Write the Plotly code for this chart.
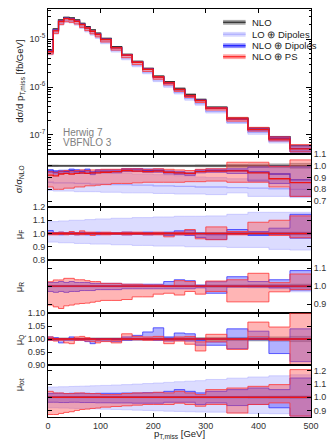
import plotly.graph_objects as go
from plotly.subplots import make_subplots

# bin edges of the p_T,miss histogram [GeV]
edges = [0, 10, 20, 30, 40, 50, 60, 70, 80, 90, 100, 120, 140, 160, 180, 200,
         220, 240, 260, 280, 300, 340, 380, 420, 460, 500]

# NLO cross section per bin [fb/GeV]
nlo_xs = [5.9e-6, 1.62e-5, 2.49e-5, 2.83e-5, 2.74e-5, 2.49e-5, 2.12e-5, 1.80e-5, 1.54e-5, 1.32e-5,
          1.03e-5, 6.9e-6, 4.8e-6, 3.43e-6, 2.45e-6, 1.69e-6, 1.29e-6, 9.4e-7, 7.0e-7, 5.5e-7,
          3.8e-7, 2.26e-7, 1.4e-7, 9.2e-8, 6.0e-8]

# ratio to NLO (sigma / sigma_NLO)
sig_lo_c = [0.860, 0.855, 0.855, 0.855, 0.855, 0.850, 0.850, 0.850, 0.845, 0.845, 0.845, 0.840, 0.840,
            0.835, 0.835, 0.830, 0.830, 0.825, 0.825, 0.820, 0.820, 0.815, 0.810, 0.805, 0.800]
sig_lo_lo = [0.790, 0.785, 0.785, 0.785, 0.785, 0.780, 0.780, 0.780, 0.780, 0.780, 0.775, 0.775, 0.770,
             0.770, 0.770, 0.765, 0.765, 0.760, 0.760, 0.760, 0.755, 0.770, 0.740, 0.740, 0.730]
sig_lo_hi = [0.965, 0.960, 0.960, 0.960, 0.960, 0.955, 0.955, 0.950, 0.950, 0.950, 0.945, 0.940, 0.935,
             0.930, 0.930, 0.925, 0.920, 0.915, 0.910, 0.905, 0.900, 0.890, 0.885, 0.880, 0.870]
sig_dip_c = [0.955, 0.945, 0.950, 0.950, 0.960, 0.955, 0.950, 0.960, 0.940, 0.955, 0.955, 0.955, 0.965,
             0.965, 0.960, 0.960, 0.945, 0.940, 0.933, 0.955, 0.960, 0.960, 0.947, 0.930, 0.880]
sig_dip_lo = [0.940, 0.930, 0.935, 0.935, 0.945, 0.940, 0.935, 0.945, 0.925, 0.940, 0.940, 0.940, 0.950,
              0.950, 0.945, 0.945, 0.930, 0.925, 0.918, 0.940, 0.945, 0.935, 0.870, 0.850, 0.740]
sig_dip_hi = [0.967, 0.957, 0.962, 0.962, 0.972, 0.967, 0.962, 0.972, 0.952, 0.967, 0.967, 0.967, 0.977,
              0.977, 0.972, 0.972, 0.957, 0.952, 0.945, 0.967, 0.972, 0.975, 0.990, 0.995, 0.990]
sig_ps_c = [0.920, 0.915, 0.930, 0.935, 0.930, 0.935, 0.940, 0.935, 0.940, 0.940, 0.945, 0.950, 0.960,
            0.955, 0.950, 0.955, 0.945, 0.940, 0.935, 0.950, 0.955, 0.956, 0.939, 0.890, 0.857]
sig_ps_lo = [0.820, 0.800, 0.800, 0.810, 0.810, 0.820, 0.820, 0.830, 0.830, 0.835, 0.840, 0.850, 0.850,
             0.855, 0.860, 0.860, 0.860, 0.860, 0.865, 0.865, 0.870, 0.860, 0.860, 0.820, 0.740]
sig_ps_hi = [0.950, 0.945, 0.955, 0.960, 0.955, 0.960, 0.965, 0.960, 0.965, 0.965, 0.970, 0.970, 0.975,
             0.975, 0.970, 0.975, 0.970, 0.965, 0.960, 0.970, 0.975, 1.030, 1.030, 0.995, 1.050]
sig_nlo_err = [0.006, 0.006, 0.005, 0.005, 0.005, 0.005, 0.005, 0.005, 0.005, 0.005, 0.005, 0.005, 0.006,
               0.006, 0.006, 0.006, 0.007, 0.007, 0.007, 0.008, 0.008, 0.012, 0.014, 0.016, 0.020]

# factorisation scale variation
muf_lo_lo = [0.935, 0.935, 0.930, 0.930, 0.930, 0.925, 0.925, 0.925, 0.920, 0.920, 0.920, 0.915, 0.915,
             0.910, 0.910, 0.905, 0.905, 0.905, 0.900, 0.900, 0.900, 0.895, 0.895, 0.880, 0.875]
muf_lo_hi = [1.090, 1.090, 1.095, 1.095, 1.100, 1.100, 1.100, 1.105, 1.105, 1.110, 1.110, 1.115, 1.115,
             1.120, 1.120, 1.125, 1.125, 1.130, 1.130, 1.130, 1.133, 1.145, 1.160, 1.160, 1.160]
muf_dip_lo = [0.995, 0.995, 0.990, 0.995, 0.995, 0.990, 0.995, 0.990, 0.995, 0.990, 0.995, 0.995, 0.990,
              0.995, 0.990, 0.995, 0.985, 0.990, 0.985, 0.970, 0.955, 0.995, 0.985, 0.995, 0.965]
muf_dip_hi = [1.022, 1.005, 1.010, 1.005, 1.010, 1.005, 1.010, 1.005, 1.005, 1.010, 1.005, 1.005, 1.010,
              1.005, 1.010, 1.005, 1.010, 1.020, 1.025, 1.000, 0.990, 1.030, 1.015, 1.040, 1.145]
muf_ps_lo = [0.990, 0.990, 0.995, 0.990, 0.995, 0.990, 0.990, 0.995, 0.985, 0.995, 0.990, 0.995, 0.990,
             0.995, 0.990, 0.990, 0.975, 0.990, 0.990, 0.960, 0.953, 0.990, 1.000, 0.985, 0.968]
muf_ps_hi = [1.005, 1.005, 1.010, 1.005, 1.015, 1.005, 1.020, 1.010, 1.010, 1.005, 1.010, 1.005, 1.010,
             1.010, 1.005, 1.010, 1.005, 1.010, 1.030, 1.000, 1.050, 1.015, 1.085, 1.100, 1.133]

# renormalisation scale variation
mur_lo_lo = [0.997, 0.997, 0.997, 0.997, 0.997, 0.997, 0.997, 0.997, 0.997, 0.997, 0.997, 0.997, 0.997,
             0.997, 0.997, 0.997, 0.996, 0.996, 0.996, 0.996, 0.995, 0.994, 0.990, 0.985, 0.968]
mur_lo_hi = [1.003, 1.003, 1.003, 1.003, 1.003, 1.003, 1.003, 1.003, 1.003, 1.003, 1.003, 1.003, 1.003,
             1.003, 1.003, 1.003, 1.003, 1.003, 1.003, 1.003, 1.004, 1.005, 1.006, 1.008, 1.003]
mur_dip_lo = [0.970, 0.965, 0.970, 0.965, 0.970, 0.970, 0.975, 0.975, 0.975, 0.980, 0.980, 0.980, 0.985,
              0.985, 0.985, 0.985, 0.985, 0.985, 0.985, 0.990, 0.960, 0.995, 0.995, 0.990, 0.978]
mur_dip_hi = [1.020, 1.020, 1.025, 1.020, 1.025, 1.020, 1.020, 1.020, 1.015, 1.015, 1.015, 1.015, 1.010,
              1.010, 1.010, 1.010, 1.025, 1.035, 1.030, 1.005, 1.024, 1.052, 1.025, 1.035, 1.086]
mur_ps_lo = [0.894, 0.884, 0.875, 0.890, 0.894, 0.900, 0.903, 0.905, 0.910, 0.915, 0.920, 0.920, 0.925,
             0.940, 0.940, 0.955, 0.960, 0.950, 0.970, 0.955, 0.970, 0.912, 0.912, 0.968, 0.980]
mur_ps_hi = [1.024, 1.034, 1.034, 1.043, 1.043, 1.035, 1.035, 1.030, 1.025, 1.025, 1.015, 1.015, 1.010,
             1.010, 1.006, 1.006, 1.000, 1.030, 1.025, 1.000, 1.028, 1.035, 1.071, 1.019, 1.067]

# shower scale variation
muq_lo_lo = [0.998, 0.998, 0.998, 0.998, 0.998, 0.998, 0.998, 0.998, 0.998, 0.998, 0.998, 0.998, 0.998,
             0.998, 0.998, 0.998, 0.998, 0.998, 0.998, 0.998, 0.998, 0.998, 0.998, 0.998, 0.998]
muq_lo_hi = [1.002, 1.002, 1.002, 1.002, 1.002, 1.002, 1.002, 1.002, 1.002, 1.002, 1.002, 1.002, 1.002,
             1.002, 1.002, 1.002, 1.002, 1.002, 1.002, 1.002, 1.002, 1.002, 1.002, 1.002, 1.002]
muq_dip_lo = [0.995, 0.995, 0.985, 0.995, 0.995, 0.995, 0.995, 0.990, 0.982, 0.992, 0.992, 0.990, 0.995,
              0.997, 0.997, 0.995, 0.992, 0.995, 0.992, 0.976, 0.976, 0.963, 0.997, 0.944, 0.913]
muq_dip_hi = [1.008, 1.005, 1.001, 1.001, 1.008, 1.001, 1.001, 1.001, 1.001, 1.001, 1.001, 1.000, 1.008,
              1.014, 1.027, 1.043, 1.008, 1.023, 1.020, 0.995, 0.989, 1.039, 1.030, 1.001, 1.039]
muq_ps_lo = [0.995, 0.992, 0.995, 0.985, 0.982, 0.995, 0.995, 0.992, 0.990, 0.985, 0.990, 0.985, 0.997,
             0.997, 0.995, 0.996, 0.982, 0.992, 0.980, 0.954, 0.989, 0.960, 1.008, 0.995, 0.900]
muq_ps_hi = [1.008, 1.001, 1.000, 1.000, 1.000, 1.008, 1.010, 1.005, 0.999, 0.995, 0.999, 0.995, 1.020,
             1.010, 1.008, 1.010, 0.995, 1.008, 1.010, 0.989, 1.018, 1.000, 1.065, 1.046, 1.100]

# total scale variation
mut_lo_lo = [0.920, 0.920, 0.918, 0.918, 0.916, 0.915, 0.914, 0.913, 0.912, 0.911, 0.909, 0.907, 0.905,
             0.902, 0.900, 0.897, 0.894, 0.892, 0.890, 0.888, 0.887, 0.882, 0.877, 0.875, 0.870]
mut_lo_hi = [1.078, 1.078, 1.080, 1.080, 1.082, 1.083, 1.084, 1.085, 1.087, 1.088, 1.090, 1.093, 1.096,
             1.100, 1.104, 1.108, 1.113, 1.118, 1.122, 1.126, 1.135, 1.145, 1.154, 1.163, 1.170]
mut_dip_lo = [0.962, 0.962, 0.960, 0.960, 0.962, 0.962, 0.960, 0.960, 0.960, 0.958, 0.958, 0.957, 0.957,
              0.955, 0.955, 0.955, 0.962, 0.962, 0.962, 0.945, 0.957, 0.937, 0.945, 0.920, 0.857]
mut_dip_hi = [1.028, 1.030, 1.030, 1.028, 1.030, 1.028, 1.030, 1.030, 1.028, 1.030, 1.030, 1.030, 1.032,
              1.032, 1.035, 1.035, 1.045, 1.058, 1.045, 1.033, 1.045, 1.058, 1.070, 1.058, 1.146]
mut_ps_lo = [0.869, 0.869, 0.877, 0.885, 0.890, 0.900, 0.907, 0.910, 0.915, 0.918, 0.925, 0.930, 0.935,
             0.940, 0.945, 0.945, 0.945, 0.955, 0.945, 0.932, 0.945, 0.880, 0.945, 0.957, 0.857]
mut_ps_hi = [1.045, 1.033, 1.033, 1.028, 1.028, 1.033, 1.033, 1.028, 1.028, 1.028, 1.020, 1.020, 1.028,
             1.033, 1.033, 1.038, 1.033, 1.045, 1.033, 1.020, 1.058, 1.070, 1.083, 1.096, 1.210]

nlo_scale_err = [0.004, 0.004, 0.004, 0.004, 0.004, 0.004, 0.004, 0.004, 0.004, 0.004, 0.004, 0.004, 0.004,
                 0.004, 0.004, 0.004, 0.005, 0.005, 0.005, 0.005, 0.006, 0.006, 0.007, 0.008, 0.010]

labels = ["NLO", "LO \u2295 Dipoles", "NLO \u2295 Dipoles", "NLO \u2295 PS"]

# style per series: (fill, band edge, central line)
STY = {
    "nlo": ("rgba(95,95,95,0.45)", "rgba(95,95,95,0.6)", "#2e2e2e"),
    "lo": ("rgba(150,150,255,0.33)", "rgba(160,160,255,0.55)", "#a8a8ff"),
    "dip": ("rgba(70,70,255,0.42)", "#3535ff", "#1a1aee"),
    "ps": ("rgba(255,70,70,0.40)", "#ff3535", "#ee1515"),
}

FONT = "Liberation Sans, Arial, sans-serif"
ones = [1.0] * len(nlo_xs)


def step(v):
    return list(v) + [v[-1]]


fig = make_subplots(rows=6, cols=1, vertical_spacing=0, row_heights=[145, 53, 53, 53, 52, 52])


def add_series(row, lo, c, hi, key):
    fill, edge, line = STY[key]
    fig.add_trace(go.Scatter(x=edges, y=step(lo), mode="lines", hoverinfo="skip", showlegend=False,
                             line=dict(shape="hv", color=edge, width=0.8)), row=row, col=1)
    fig.add_trace(go.Scatter(x=edges, y=step(hi), mode="lines", hoverinfo="skip", showlegend=False,
                             fill="tonexty", fillcolor=fill,
                             line=dict(shape="hv", color=edge, width=0.8)), row=row, col=1)
    fig.add_trace(go.Scatter(x=edges, y=step(c), mode="lines", hoverinfo="skip", showlegend=False,
                             line=dict(shape="hv", color=line, width=1.3)), row=row, col=1)


def scaled(r):
    return [n * x for n, x in zip(nlo_xs, r)]


# main panel
add_series(1, scaled([1 - e for e in sig_nlo_err]), nlo_xs, scaled([1 + e for e in sig_nlo_err]), "nlo")
add_series(1, scaled(sig_lo_lo), scaled(sig_lo_c), scaled(sig_lo_hi), "lo")
add_series(1, scaled(sig_dip_lo), scaled(sig_dip_c), scaled(sig_dip_hi), "dip")
add_series(1, scaled(sig_ps_lo), scaled(sig_ps_c), scaled(sig_ps_hi), "ps")

# sigma / sigma_NLO
add_series(2, [1 - e for e in sig_nlo_err], ones, [1 + e for e in sig_nlo_err], "nlo")
add_series(2, sig_lo_lo, sig_lo_c, sig_lo_hi, "lo")
add_series(2, sig_dip_lo, sig_dip_c, sig_dip_hi, "dip")
add_series(2, sig_ps_lo, sig_ps_c, sig_ps_hi, "ps")

# scale variation panels
scale_panels = [
    (3, muf_lo_lo, muf_lo_hi, muf_dip_lo, muf_dip_hi, muf_ps_lo, muf_ps_hi),
    (4, mur_lo_lo, mur_lo_hi, mur_dip_lo, mur_dip_hi, mur_ps_lo, mur_ps_hi),
    (5, muq_lo_lo, muq_lo_hi, muq_dip_lo, muq_dip_hi, muq_ps_lo, muq_ps_hi),
    (6, mut_lo_lo, mut_lo_hi, mut_dip_lo, mut_dip_hi, mut_ps_lo, mut_ps_hi),
]
for row, llo, lhi, dlo, dhi, plo, phi in scale_panels:
    add_series(row, [1 - e for e in nlo_scale_err], ones, [1 + e for e in nlo_scale_err], "nlo")
    add_series(row, llo, ones, lhi, "lo")
    add_series(row, dlo, ones, dhi, "dip")
    add_series(row, plo, ones, phi, "ps")


# plot area spans 48..311 px horizontally and 9..417 px vertically
def py(px):
    return (417 - px) / 408.0


def pxx(px):
    return (px - 47.7) / 263.3


panel_px = [(9, 154), (154, 207), (207, 260), (260, 313), (313, 365), (365, 417)]

tickfont = dict(family=FONT, size=9, color="#333")
fig.update_xaxes(range=[0, 500], showline=True, linecolor="black", linewidth=1, mirror="ticks",
                 ticks="inside", ticklen=4, tickcolor="black", tickvals=[0, 100, 200, 300, 400, 500],
                 showgrid=False, zeroline=False, showticklabels=False, automargin=False)
fig.update_xaxes(showticklabels=True, tickfont=tickfont, row=6, col=1)
fig.update_yaxes(showline=True, linecolor="black", linewidth=1, mirror="ticks", ticks="inside",
                 ticklen=4, tickcolor="black", showgrid=False, zeroline=False, tickfont=tickfont,
                 automargin=False)
for i, (top, bot) in enumerate(panel_px):
    fig.update_yaxes(domain=[py(bot), py(top)], row=i + 1, col=1)

minor_log = [m * 10.0 ** e for e in (-8, -7, -6, -5) for m in range(2, 10)]
fig.update_yaxes(type="log", range=[-7.396, -4.375], tickvals=[1e-7, 1e-6, 1e-5], ticklen=5,
                 ticktext=["10<sup>-7</sup>", "10<sup>-6</sup>", "10<sup>-5</sup>"],
                 minor=dict(tickvals=minor_log, ticks="inside", ticklen=2.5, tickcolor="black"),
                 row=1, col=1)
fig.update_yaxes(range=[0.65, 1.1], tickvals=[0.7, 0.8, 0.9, 1.0, 1.1], tickformat=".1f", side="right",
                 row=2, col=1)
fig.update_yaxes(range=[0.8, 1.2], tickvals=[0.8, 0.9, 1.0, 1.1, 1.2], tickformat=".1f", side="left",
                 row=3, col=1)
fig.update_yaxes(range=[0.85, 1.145], tickvals=[0.9, 1.0, 1.1], tickformat=".1f", side="right",
                 row=4, col=1)
fig.update_yaxes(range=[0.9, 1.1], tickvals=[0.9, 0.95, 1.0, 1.05, 1.1], tickformat=".2f", side="left",
                 row=5, col=1)
fig.update_yaxes(range=[0.85, 1.245], tickvals=[0.9, 1.0, 1.1, 1.2], tickformat=".1f", side="right",
                 row=6, col=1)

ann = []
ytitles = [("d\u03c3/d p<sub>T,miss</sub> [fb/GeV]", 81.5),
           ("\u03c3/\u03c3<sub>NLO</sub>", 179),
           ("\u03bc<sub>F</sub>", 234),
           ("\u03bc<sub>R</sub>", 287),
           ("\u03bc<sub>Q</sub>", 340),
           ("\u03bc<sub>tot</sub>", 385)]
for txt, ypx in ytitles:
    ann.append(dict(text=txt, x=pxx(19), y=py(ypx), xref="paper", yref="paper", textangle=-90,
                    showarrow=False, xanchor="center", yanchor="middle",
                    font=dict(family=FONT, size=9.5, color="#222")))
ann.append(dict(text="p<sub>T,miss</sub> [GeV]", x=0.5, y=py(433.5), xref="paper", yref="paper",
                showarrow=False, xanchor="center", yanchor="middle",
                font=dict(family=FONT, size=9.5, color="#222")))
for txt, ypx in [("Herwig 7", 132.5), ("VBFNLO 3", 142.5)]:
    ann.append(dict(text=txt, x=pxx(61), y=py(ypx), xref="paper", yref="paper", showarrow=False,
                    xanchor="left", yanchor="middle", font=dict(family=FONT, size=10, color="#808080")))

# hand-drawn legend
shapes = []
leg_rows = [22.3, 34.3, 45.7, 56.7]
leg_style = [("#a3a3a3", "#3a3a3a"), ("#d6d6ff", "#b4b4ff"), ("#8f8fff", "#2828ff"), ("#ffa3a3", "#ff3030")]
for lab, ypx, (bandc, linec) in zip(labels, leg_rows, leg_style):
    shapes.append(dict(type="rect", xref="paper", yref="paper", x0=pxx(223), x1=pxx(245.5),
                       y0=py(ypx + 2.4), y1=py(ypx - 2.4), fillcolor=bandc, line=dict(width=0)))
    shapes.append(dict(type="line", xref="paper", yref="paper", x0=pxx(223), x1=pxx(245.5),
                       y0=py(ypx), y1=py(ypx), line=dict(color=linec, width=1.4)))
    ann.append(dict(text=lab, x=pxx(250), y=py(ypx), xref="paper", yref="paper", showarrow=False,
                    xanchor="left", yanchor="middle", font=dict(family=FONT, size=9.5, color="#222")))

fig.update_layout(width=330, height=440, margin=dict(l=48, r=19, t=9, b=23, autoexpand=False),
                  paper_bgcolor="white", plot_bgcolor="white", showlegend=False,
                  annotations=ann, shapes=shapes, font=dict(family=FONT, size=9, color="#222"))

# drop the default page margin so the 330x440 figure fills the window exactly
fig.write_html("out.html", config={"displayModeBar": False},
               post_script="document.body.style.margin='0';")
